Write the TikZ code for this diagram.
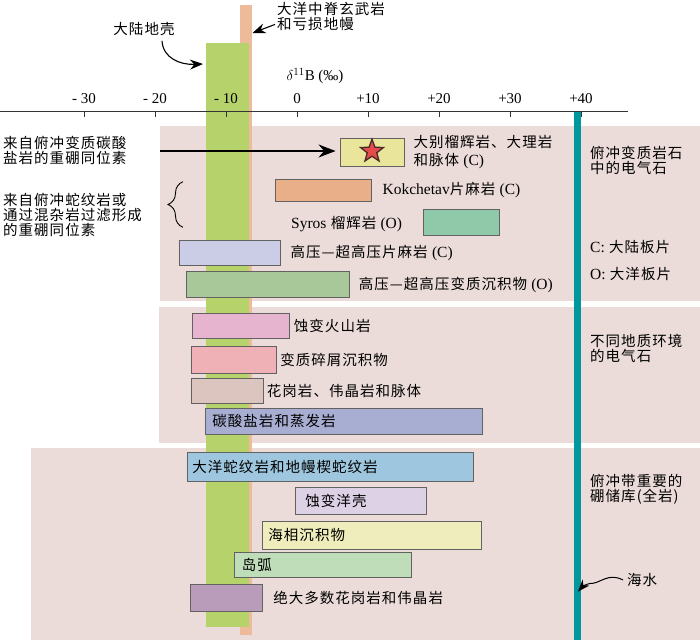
\documentclass[tikz,border=0pt]{standalone}
\usepackage{fontspec}
\setmainfont{Liberation Serif}
\newfontfamily\cjk[LetterSpace=7]{Noto Sans CJK SC}
\usetikzlibrary{positioning,arrows.meta,shapes.geometric,decorations.pathreplacing}
\newcommand\en[1]{{\rmfamily\fontsize{15.5}{15}\selectfont #1}}

\definecolor{panelpink}{HTML}{EBDCD9}
\definecolor{crustgreen}{HTML}{B6D36B}
\definecolor{morborange}{HTML}{EDBA9A}
\definecolor{seateal}{HTML}{00989C}
\definecolor{barline}{HTML}{626262}
\definecolor{starred}{HTML}{E64B4B}
\definecolor{stardark}{HTML}{4A2A2A}
\definecolor{cdabie}{HTML}{E9E69B}
\definecolor{ckok}{HTML}{E9AF88}
\definecolor{csyros}{HTML}{8FC9A9}
\definecolor{cgneiss}{HTML}{CBCCE5}
\definecolor{chpsed}{HTML}{A9C89A}
\definecolor{cvolc}{HTML}{E6B4CF}
\definecolor{cclast}{HTML}{EFB0B6}
\definecolor{cgran}{HTML}{DCC4BF}
\definecolor{ccarb}{HTML}{A8AED2}
\definecolor{cserp}{HTML}{9EC6DE}
\definecolor{caltoc}{HTML}{DDD1E6}
\definecolor{cmarine}{HTML}{EFEDBB}
\definecolor{carc}{HTML}{BEDDB8}
\definecolor{cgranb}{HTML}{B99BBA}

\begin{document}
\begin{tikzpicture}[x=1pt, y=-1pt, >={Stealth[length=13pt, width=10pt]},
	bar/.style={draw=barline, line width=0.9pt, inner sep=0pt},
	lbl/.style={inner sep=0pt, align=left, font=\cjk\fontsize{14.5}{15}\selectfont},
	num/.style={inner sep=0pt, font=\fontsize{15}{15}\selectfont},
	arr/.style={->, line width=1.1pt}]
	
	\useasboundingbox (0,0) rectangle (700,640);
	
	\foreach \xa/\ya/\yb in {160/126/300.7, 159/306.7/443.3, 31/448.3/640}
	\fill[panelpink] (\xa,\ya) rectangle (700,\yb);
	
	\fill[morborange] (240,4.7) rectangle (252.3,635);
	\fill[crustgreen] (205.7,42.7) rectangle (249.3,627.3);
	
	\coordinate (axis-l) at (0,111);
	\coordinate (axis-r) at (628,111);
	\draw[line width=0.8pt, black!80] (axis-l) -- (axis-r);
	
	\foreach \v/\t [count=\i] in {-30/- 30, -20/- 20, -10/- 10, 0/0, 10/+10, 20/+20, 30/+30, 40/+40}
	{
	\draw[line width=0.8pt, black!80] ({297+7.1*\v},111) -- ++(0,6);
	\node[num] (tick-\i) at ({297+7.1*\v},99) {\t};
	}
	
	\coordinate (sea-top) at (577.7,111.5);
	\coordinate (sea-bot) at (577.7,640);
	\draw[seateal, line width=7pt] (sea-top) -- (sea-bot);
	
	\node[num] (delta-lbl) at (315,76) {$\delta^{11}$B (‰)};
	
	\node[lbl] (crust-lbl) at (144,29) {大陆地壳};
	\coordinate (crust-tip) at (203,64);
	\draw[arr] ([xshift=18pt,yshift=-5pt]crust-lbl.south) .. controls (163,58) and (180,65) .. (crust-tip);
	
	\node[lbl, anchor=west] (morb-lbl) at (277,16) {大洋中脊玄武岩\\和亏损地幔};
	\coordinate (morb-tip) at (252.5,33);
	\draw[arr] ([xshift=-2pt,yshift=6pt]morb-lbl.south west) -- (morb-tip);
	
	\foreach \nm/\xa/\xb/\ya/\yb/\col in {dabie/340/404/138.5/166/cdabie, kok/275/371/179/201.7/ckok,
		syros/423/499/209/235.7/csyros, gneiss/179/280/240/265.7/cgneiss, hpsed/186.7/349.3/271.7/297.3/chpsed,
		volc/192.7/289.3/313.3/338.3/cvolc, clast/191/276.7/346.7/373.3/cclast, gran/191.3/263.3/378.3/403.3/cgran,
		carb/205.7/482.3/408.3/434.3/ccarb, serp/187.7/473.3/452.7/481/cserp, altoc/295.7/426/487.7/514/caltoc,
		marine/262.7/481.7/521.7/549/cmarine, arc/234/411/552.3/577.3/carc, granb/190.7/262.7/584.3/611.7/cgranb}
	\node[bar, fill=\col, minimum width={(\xb-\xa)*1pt}, minimum height={(\yb-\ya)*1pt}] (\nm) at ({(\xa+\xb)/2},{(\ya+\yb)/2}) {};
	
	\node[star, star points=5, star point ratio=2.4, minimum size=24pt, inner sep=0pt,
		fill=starred, draw=stardark, line width=1.3pt] (dabie-star) at ([yshift=1pt]dabie) {};
	
	\foreach \nm/\gap/\txt in {dabie/9pt/{大别榴辉岩、大理岩\\[3pt]和脉体 \en{(C)}}, kok/11pt/{\en{Kokchetav}片麻岩 \en{(C)}},
		gneiss/10pt/{高压—超高压片麻岩 \en{(C)}}, hpsed/9pt/{高压—超高压变质沉积物 \en{(O)}},
		volc/4pt/{蚀变火山岩}, clast/3pt/{变质碎屑沉积物}, gran/3pt/{花岗岩、伟晶岩和脉体}, granb/10pt/{绝大多数花岗岩和伟晶岩}}
	\node[lbl, right=\gap of \nm] (\nm-lbl) {\txt};
	
	\foreach \nm/\gap/\txt in {carb/7pt/碳酸盐岩和蒸发岩, serp/5pt/大洋蛇纹岩和地幔楔蛇纹岩, altoc/10pt/蚀变洋壳,
		marine/6pt/海相沉积物, arc/8pt/岛弧}
	\node[lbl, right=\gap of \nm.west] (\nm-lbl) {\txt};
	
	\node[lbl, anchor=west] (syros-lbl) at (291,224) {\en{Syros} 榴辉岩 \en{(O)}};
	
	\node[lbl, anchor=west] (carb-note) at (3,150.5) {来自俯冲变质碳酸\\盐岩的重硼同位素};
	\coordinate (carb-src) at (160,151);
	\draw[arr, >={Stealth[length=17pt, width=13pt]}, shorten >=4pt] (carb-src) -- (carb-src -| dabie.west);
	
	\node[lbl, anchor=west] (serp-note) at (3,214.5) {来自俯冲蛇纹岩或\\通过混杂岩过滤形成\\的重硼同位素};
	\coordinate (brace-b) at (183,227.3);
	\coordinate (brace-t) at (183,181.7);
	\draw[decorate, decoration={brace, amplitude=15pt}, line width=0.9pt] (brace-b) -- (brace-t);
	
	\node[lbl, anchor=west] (meta-note) at (590,160.5) {俯冲变质岩石\\中的电气石};
	\node[lbl, anchor=west] (c-note) at (590,247) {\en{C:} 大陆板片};
	\node[lbl, anchor=west] (o-note) at (590,274) {\en{O:} 大洋板片};
	\node[lbl, anchor=west] (env-note) at (590,348) {不同地质环境\\的电气石};
	\node[lbl, anchor=west] (res-note) at (590,489) {俯冲带重要的\\硼储库(全岩)};
	
	\node[lbl, anchor=west] (sea-lbl) at (627,580) {海水};
	\coordinate (sea-tip) at (578,591.5);
	\draw[arr, line width=1pt, >={Stealth[length=12pt, width=9pt]}] ([xshift=-4pt]sea-lbl.west) .. controls (608,572) and (600,584) .. (590,583.5) .. controls (586,584) and (582,587) .. (sea-tip);
	
\end{tikzpicture}
\end{document}
